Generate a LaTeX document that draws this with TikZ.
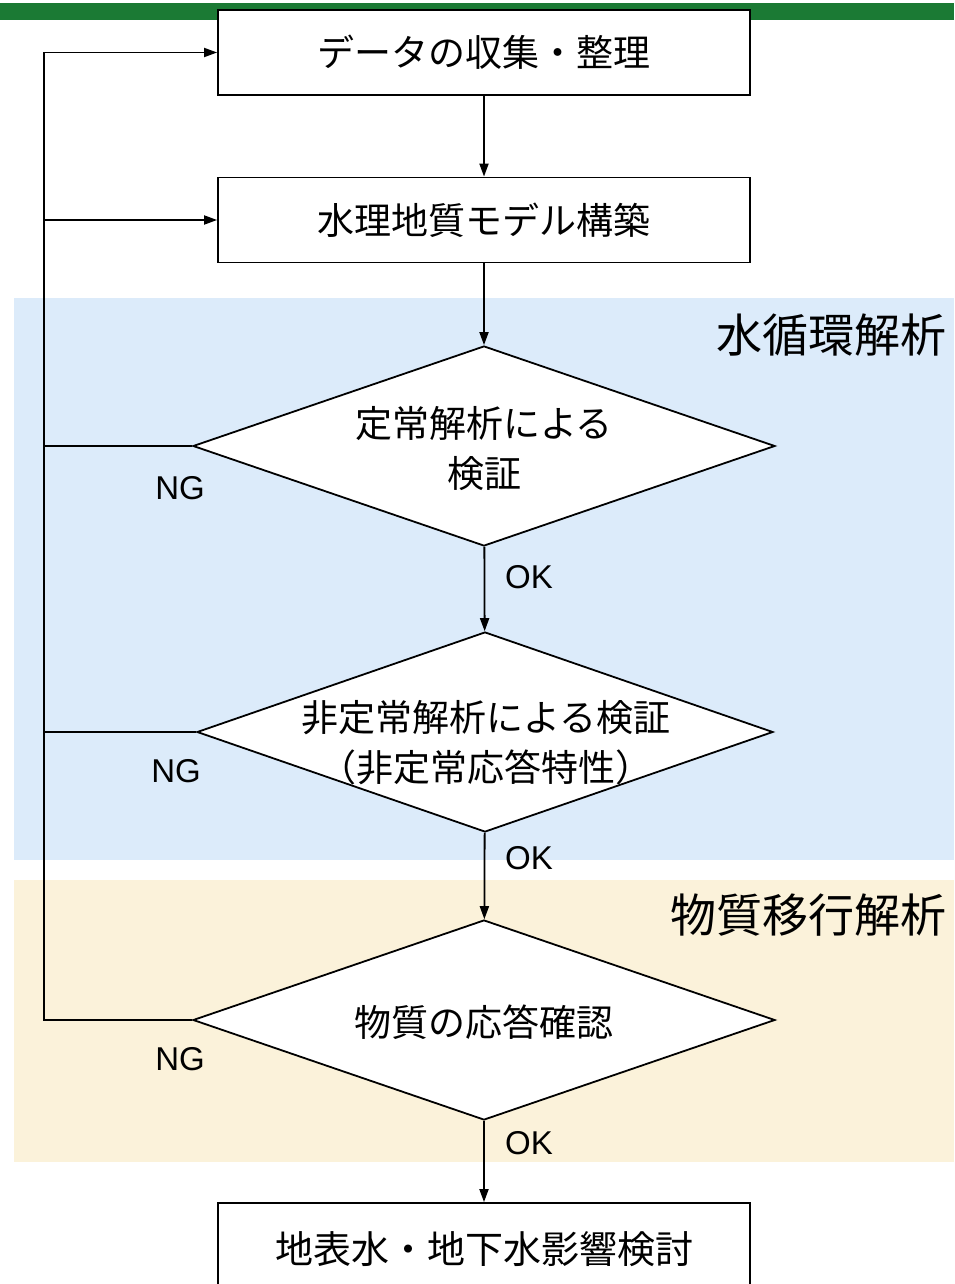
\documentclass[tikz,border=0pt]{standalone}
\usepackage{fontspec}
\setmainfont{Noto Sans CJK JP}
\newfontfamily\lat{Liberation Sans}
\usetikzlibrary{shapes.geometric,arrows.meta}
\definecolor{bandgreen}{HTML}{1B7A34}
\definecolor{waterbg}{HTML}{DCEBFA}
\definecolor{massbg}{HTML}{FBF2DA}
\tikzset{
  stepbox/.style={draw=black, line width=1.8pt, fill=white, minimum width=532pt, minimum height=85pt, inner sep=0pt, font=\fontsize{37pt}{44pt}\selectfont},
  dia/.style={draw=black, line width=1.8pt, fill=white, diamond, minimum width=582pt, minimum height=200pt, inner sep=0pt},
  diatext/.style={align=center, font=\fontsize{37pt}{50pt}\selectfont},
  flow/.style={line width=1.8pt, -{Triangle[length=13pt,width=9pt]}},
  plain/.style={line width=1.8pt},
  yn/.style={font=\lat\fontsize{33pt}{38pt}\selectfont},
  section/.style={anchor=east, font=\fontsize{46pt}{54pt}\selectfont}
}
\begin{document}
\begin{tikzpicture}[x=1pt,y=-1pt]
\useasboundingbox (0,0) rectangle (954,1284);
\clip (0,0) rectangle (954,1284);
% background regions
\fill[waterbg] (14,298) rectangle (954,860);
\fill[massbg] (14,880) rectangle (954,1162);
\fill[bandgreen] (0,3) rectangle (954,20);
\node[section] (secw) at (950,335) {水循環解析};
\node[section] (secm) at (950,915) {物質移行解析};
% nodes
\node[stepbox] (b1) at (484,52.5) {データの収集・整理};
\node[stepbox] (b2) at (484,220) {水理地質モデル構築};
\node[dia] (d1) at (484,446) {};
\node[diatext] (t1) at (484,449) {定常解析による\\検証};
\node[dia, minimum width=576pt] (d2) at (485,732) {};
\node[diatext] (t2) at (486,743) {非定常解析による検証\\（非定常応答特性）};
\node[dia] (d3) at (484,1020) {};
\node[diatext] (t3) at (484,1022) {物質の応答確認};
\node[stepbox, minimum height=98pt] (b3) at (484,1252) {};
\node[font=\fontsize{38pt}{44pt}\selectfont] (t4) at (484,1249) {地表水・地下水影響検討};
\coordinate (L) at (44,0);
% connectors
\draw[flow] (b1) -- (b2);
\draw[flow] (b2) -- (d1);
\draw[flow] (d1) -- (d2);
\draw[flow] (d2) -- (d3);
\draw[flow] (d3) -- (b3);
\draw[plain] (d1.west) -- (d1.west -| L);
\draw[plain] (d2.west) -- (d2.west -| L);
\draw[flow] (d3.west) -- (d3.west -| L) -- (b1.west -| L) -- (b1.west);
\draw[flow] (b2.west -| L) -- (b2.west);
% labels
\node[yn] (ng1) at (180,488) {NG};
\node[yn] (ng2) at (176,771) {NG};
\node[yn] (ng3) at (180,1059) {NG};
\node[yn] (ok1) at (529,577) {OK};
\node[yn] (ok2) at (529,858) {OK};
\node[yn] (ok3) at (529,1143) {OK};
\end{tikzpicture}
\end{document}
